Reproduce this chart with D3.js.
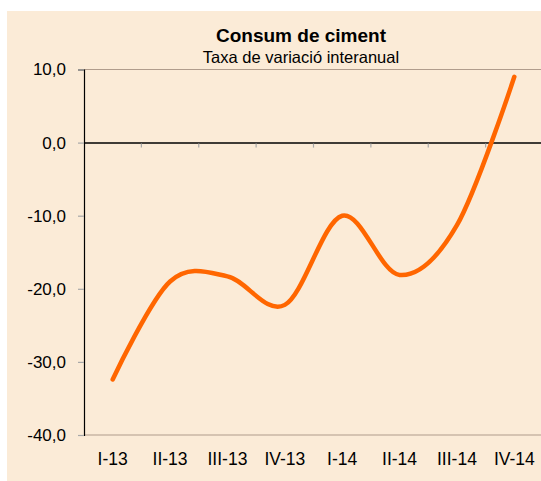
<!DOCTYPE html>
<html>
<head>
<meta charset="utf-8">
<script src="https://cdn.jsdelivr.net/npm/d3@7/dist/d3.min.js"></script>
<style>
  body { margin: 0; background: #ffffff; }
  svg { display: block; }
</style>
</head>
<body>
<div id="container"></div>
<script>
// chart data
var categories = ["I-13", "II-13", "III-13", "IV-13", "I-14", "II-14", "III-14", "IV-14"];
var values = [-32.4, -19.0, -18.3, -22.2, -10.0, -18.1, -11.3, 9.0];
var yTicks = [10, 0, -10, -20, -30, -40];
var title = "Consum de ciment";
var subtitle = "Taxa de variació interanual";

var svgWidth = 541,
    svgHeight = 481;

// plot area (right edge is cut off by the picture, as in the original)
var plot = { left: 84, top: 69.5, right: 543, bottom: 435 };

var svg = d3.select("div#container")
    .append("svg")
    .attr("width", svgWidth)
    .attr("height", svgHeight)
    .style("font-family", "'Liberation Sans', Arial, sans-serif");

// cream panel
svg.append("rect")
    .attr("x", 7)
    .attr("y", 11)
    .attr("width", svgWidth - 7)
    .attr("height", svgHeight - 11)
    .attr("fill", "#FBEBD7");

var x = d3.scaleBand()
    .domain(categories)
    .range([plot.left, plot.right])
    .padding(0);

var y = d3.scaleLinear()
    .domain([-40, 10])
    .range([plot.bottom, plot.top]);

var locale = d3.formatLocale({ decimal: ",", thousands: ".", grouping: [3], currency: ["", "€"], minus: "-" });
var fmt = locale.format(".1f");

// top and bottom border of the plot area
[10, -40].forEach(function (v) {
    svg.append("line")
        .attr("x1", plot.left)
        .attr("x2", plot.right)
        .attr("y1", y(v))
        .attr("y2", y(v))
        .attr("stroke", "#B09C8C")
        .attr("stroke-width", 1.2);
});

// Y axis
var yAxis = svg.append("g")
    .attr("transform", "translate(" + plot.left + ",0)")
    .call(d3.axisLeft(y).tickValues(yTicks).tickFormat(fmt).tickSize(6).tickPadding(12));
yAxis.select(".domain").attr("stroke", "#000").attr("stroke-width", 1.2);
yAxis.selectAll(".tick line").attr("stroke", "#A8A8A8").attr("stroke-width", 1.2);
yAxis.selectAll(".tick text")
    .style("font-size", "17px")
    .style("font-family", "'Liberation Sans', Arial, sans-serif")
    .attr("fill", "#000");

// category axis crossing at 0
var xAxis = svg.append("g")
    .attr("transform", "translate(0," + y(0) + ")")
    .call(d3.axisBottom(x).tickSize(0).tickFormat(""));
xAxis.select(".domain").attr("stroke", "#000").attr("stroke-width", 1.5);

// tick marks between categories
svg.selectAll(".catTick")
    .data(categories.slice(1))
    .enter()
    .append("line")
    .attr("class", "catTick")
    .attr("x1", function (d) { return x(d); })
    .attr("x2", function (d) { return x(d); })
    .attr("y1", y(0) + 1)
    .attr("y2", y(0) + 5)
    .attr("stroke", "#A8A8A8")
    .attr("stroke-width", 1.2);

// category labels at the bottom
svg.selectAll(".catLabel")
    .data(categories)
    .enter()
    .append("text")
    .attr("class", "catLabel")
    .attr("x", function (d) { return x(d) + x.bandwidth() / 2; })
    .attr("y", plot.bottom + 30)
    .attr("text-anchor", "middle")
    .style("font-size", "17.5px")
    .attr("fill", "#000")
    .text(function (d) { return d; });

// smoothed line
var line = d3.line()
    .x(function (d, i) { return x(categories[i]) + x.bandwidth() / 2; })
    .y(function (d) { return y(d); })
    .curve(d3.curveCardinal.tension(0));

svg.append("path")
    .datum(values)
    .attr("d", line)
    .attr("fill", "none")
    .attr("stroke", "#FF6600")
    .attr("stroke-width", 4.5)
    .attr("stroke-linecap", "round")
    .attr("stroke-linejoin", "round");

// titles
svg.append("text")
    .attr("x", 301)
    .attr("y", 42)
    .attr("text-anchor", "middle")
    .style("font-size", "19px")
    .style("font-weight", "bold")
    .attr("fill", "#000")
    .text(title);

svg.append("text")
    .attr("x", 301)
    .attr("y", 62.5)
    .attr("text-anchor", "middle")
    .style("font-size", "16.5px")
    .attr("fill", "#000")
    .text(subtitle);
</script>
</body>
</html>
